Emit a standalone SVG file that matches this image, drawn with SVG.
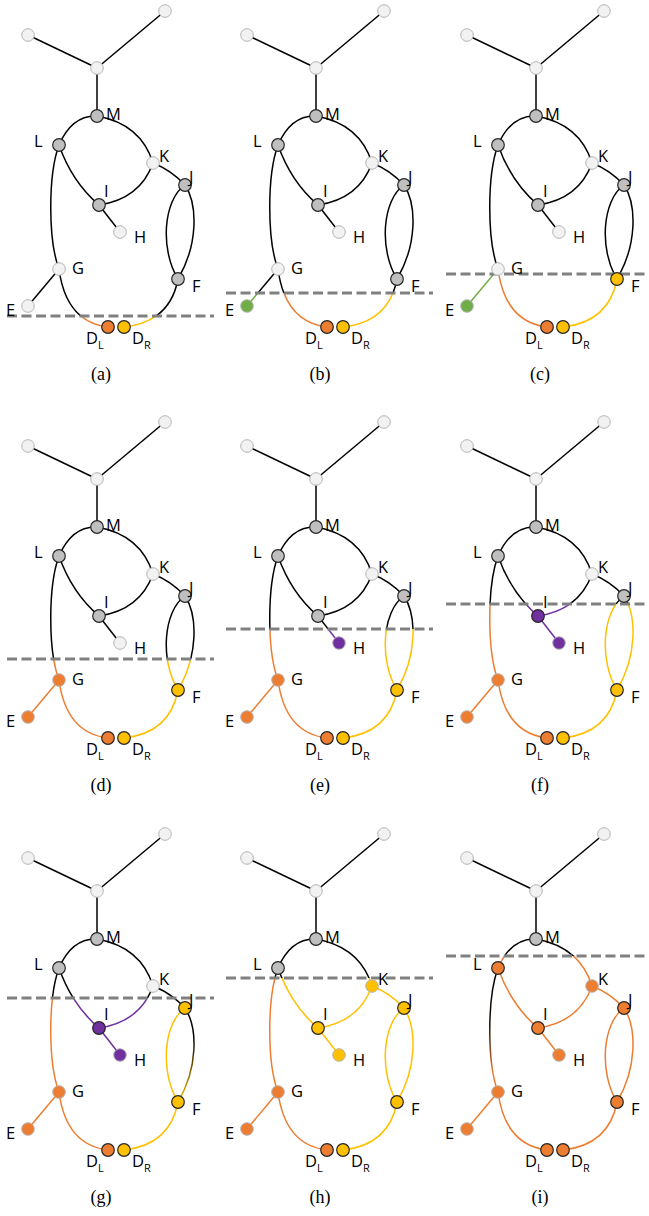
<svg xmlns="http://www.w3.org/2000/svg" width="649" height="1216" viewBox="0 0 649 1216">
<style>
.k{stroke:#000;fill:none;stroke-width:1.5}
.o{stroke:#ED7D31;fill:none;stroke-width:1.5}
.y{stroke:#FFC000;fill:none;stroke-width:1.5}
.g{stroke:#70AD47;fill:none;stroke-width:1.5}
.p{stroke:#7030A0;fill:none;stroke-width:1.5}
.dash{stroke:#808080;stroke-width:3.2;stroke-dasharray:10 4.5;fill:none}
.L{stroke:#B4B4B4;stroke-width:1}
.D{stroke:#262626;stroke-width:1.2}
.w{fill:#F2F2F2}
.gr{fill:#BFBFBF}
.or{fill:#ED7D31}
.ye{fill:#FFC000}
.gn{fill:#70AD47}
.pu{fill:#7030A0}
text{font-family:"Open Sans","DejaVu Sans",sans-serif;font-size:16.5px;fill:#000}
text.cap{font-family:"Liberation Serif","Times New Roman",serif;font-size:18px;text-anchor:middle}
tspan.s{font-size:11px}
</style>
<defs>
<path id="eT1" d="M28,35 L97,68"/>
<path id="eT2" d="M165,11 L97,68"/>
<path id="eHM" d="M97,68 L97,116"/>
<path id="eML" d="M97,116 Q72,115 59,145"/>
<path id="eMK" d="M97,116 Q141,124 153,163"/>
<path id="eKJ" d="M153,163 Q171,170 185,185"/>
<path id="eLI" d="M59,145 Q72,182 99,205"/>
<path id="eIK" d="M99,205 Q140,199 153,163"/>
<path id="eIH" d="M99,205 L120,232"/>
<path id="eLG" d="M59,145 C48,175 48,240 59,269"/>
<path id="eGE" d="M59,269 L28,306"/>
<path id="eGD" d="M59,269 Q66,322 108,327"/>
<path id="eFD" d="M178,279 Q170,322 124,327"/>
<path id="eJFL" d="M185,185 C163,200 160,250 178,279"/>
<path id="eJFR" d="M185,185 C198,205 198,245 178,279"/>
<g id="allEdges">
<use href="#eT1"/><use href="#eT2"/><use href="#eHM"/><use href="#eML"/><use href="#eMK"/><use href="#eKJ"/><use href="#eLI"/><use href="#eIK"/><use href="#eIH"/><use href="#eLG"/><use href="#eGE"/><use href="#eGD"/><use href="#eFD"/><use href="#eJFL"/><use href="#eJFR"/>
</g>
<circle id="nT1" cx="28" cy="35" r="6.3"/>
<circle id="nT2" cx="165" cy="11" r="6.3"/>
<circle id="nHub" cx="97" cy="68" r="6.3"/>
<circle id="nM" cx="97" cy="116" r="6.3"/>
<circle id="nL" cx="59" cy="145" r="6.3"/>
<circle id="nK" cx="153" cy="163" r="6.3"/>
<circle id="nJ" cx="185" cy="185" r="6.3"/>
<circle id="nI" cx="99" cy="205" r="6.3"/>
<circle id="nH" cx="120" cy="232" r="6.3"/>
<circle id="nG" cx="59" cy="269" r="6.3"/>
<circle id="nF" cx="178" cy="279" r="6.3"/>
<circle id="nE" cx="28" cy="306" r="6.3"/>
<circle id="nDL" cx="108" cy="327" r="6.3"/>
<circle id="nDR" cx="124" cy="327" r="6.3"/>
<clipPath id="ca" clipPathUnits="userSpaceOnUse"><rect x="-10" y="316" width="240" height="100"/></clipPath>
<clipPath id="cb" clipPathUnits="userSpaceOnUse"><rect x="-10" y="293" width="240" height="100"/></clipPath>
<clipPath id="cc" clipPathUnits="userSpaceOnUse"><rect x="-10" y="274" width="240" height="100"/></clipPath>
<clipPath id="cd" clipPathUnits="userSpaceOnUse"><rect x="-10" y="248" width="240" height="150"/></clipPath>
<clipPath id="ce" clipPathUnits="userSpaceOnUse"><rect x="-10" y="218" width="240" height="200"/></clipPath>
<clipPath id="cf" clipPathUnits="userSpaceOnUse"><rect x="-10" y="193" width="240" height="200"/></clipPath>
<clipPath id="cg" clipPathUnits="userSpaceOnUse"><rect x="-10" y="175" width="240" height="200"/></clipPath>
<clipPath id="ch" clipPathUnits="userSpaceOnUse"><rect x="-10" y="155" width="240" height="250"/></clipPath>
<clipPath id="ci" clipPathUnits="userSpaceOnUse"><rect x="-10" y="133" width="240" height="250"/></clipPath>
<clipPath id="xa" clipPathUnits="userSpaceOnUse"><rect x="-10" y="-20" width="240" height="336"/></clipPath>
<clipPath id="xb" clipPathUnits="userSpaceOnUse"><rect x="-10" y="-20" width="240" height="313"/></clipPath>
<clipPath id="xc" clipPathUnits="userSpaceOnUse"><rect x="-10" y="-20" width="240" height="294"/></clipPath>
<clipPath id="xd" clipPathUnits="userSpaceOnUse"><rect x="-10" y="-20" width="240" height="268"/></clipPath>
<clipPath id="xe" clipPathUnits="userSpaceOnUse"><rect x="-10" y="-20" width="240" height="238"/></clipPath>
<clipPath id="xf" clipPathUnits="userSpaceOnUse"><rect x="-10" y="-20" width="240" height="213"/></clipPath>
<clipPath id="xg" clipPathUnits="userSpaceOnUse"><rect x="-10" y="-20" width="240" height="195"/></clipPath>
<clipPath id="xh" clipPathUnits="userSpaceOnUse"><rect x="-10" y="-20" width="240" height="175"/></clipPath>
<clipPath id="xi" clipPathUnits="userSpaceOnUse"><rect x="-10" y="-20" width="240" height="153"/></clipPath>
<linearGradient id="gradJF" gradientUnits="userSpaceOnUse" x1="0" y1="185" x2="0" y2="279">
<stop offset="0" stop-color="#000"/><stop offset="0.3" stop-color="#000"/><stop offset="1" stop-color="#FFC000"/>
</linearGradient>
<linearGradient id="gradLG" gradientUnits="userSpaceOnUse" x1="0" y1="145" x2="0" y2="269">
<stop offset="0" stop-color="#000"/><stop offset="0.45" stop-color="#1a0c04"/><stop offset="0.85" stop-color="#ED7D31"/><stop offset="1" stop-color="#ED7D31"/>
</linearGradient>
</defs>

<!-- Panel (a) -->
<g id="pa" transform="translate(0,0)">
<g id="pa-connectors">
<g clip-path="url(#xa)"><use href="#allEdges" class="k"/></g>
<g clip-path="url(#ca)"><use href="#eGD" class="o"/><use href="#eFD" class="y"/></g>
</g>
<line class="dash" x1="7" y1="316" x2="214" y2="316"/>
<g id="pa-T1"><use href="#nT1" class="w L"/></g>
<g id="pa-T2"><use href="#nT2" class="w L"/></g>
<g id="pa-Hub"><use href="#nHub" class="w L"/></g>
<g id="pa-M"><use href="#nM" class="gr D"/><text x="106" y="120">M</text></g>
<g id="pa-L"><use href="#nL" class="gr D"/><text x="34" y="147">L</text></g>
<g id="pa-K"><use href="#nK" class="w L"/><text x="159" y="162">K</text></g>
<g id="pa-J"><use href="#nJ" class="gr D"/><text x="189" y="183">J</text></g>
<g id="pa-I"><use href="#nI" class="gr D"/><text x="104" y="197">I</text></g>
<g id="pa-H"><use href="#nH" class="w L"/><text x="134" y="243">H</text></g>
<g id="pa-G"><use href="#nG" class="w L"/><text x="72" y="274">G</text></g>
<g id="pa-F"><use href="#nF" class="gr D"/><text x="192" y="292">F</text></g>
<g id="pa-E"><use href="#nE" class="w L"/><text x="6" y="316">E</text></g>
<g id="pa-DL"><use href="#nDL" class="or D"/><text x="86" y="344">D<tspan class="s" dy="5">L</tspan></text></g>
<g id="pa-DR"><use href="#nDR" class="ye D"/><text x="132" y="344">D<tspan class="s" dy="5">R</tspan></text></g>
<text class="cap" x="101" y="380">(a)</text>
</g>

<!-- Panel (b) -->
<g id="pb" transform="translate(219,0)">
<g id="pb-connectors">
<g clip-path="url(#xb)"><use href="#allEdges" class="k"/></g>
<g clip-path="url(#cb)"><use href="#eGE" class="g"/><use href="#eGD" class="o"/><use href="#eFD" class="y"/></g>
</g>
<line class="dash" x1="7" y1="293" x2="214" y2="293"/>
<g id="pb-T1"><use href="#nT1" class="w L"/></g>
<g id="pb-T2"><use href="#nT2" class="w L"/></g>
<g id="pb-Hub"><use href="#nHub" class="w L"/></g>
<g id="pb-M"><use href="#nM" class="gr D"/><text x="106" y="120">M</text></g>
<g id="pb-L"><use href="#nL" class="gr D"/><text x="34" y="147">L</text></g>
<g id="pb-K"><use href="#nK" class="w L"/><text x="159" y="162">K</text></g>
<g id="pb-J"><use href="#nJ" class="gr D"/><text x="189" y="183">J</text></g>
<g id="pb-I"><use href="#nI" class="gr D"/><text x="104" y="197">I</text></g>
<g id="pb-H"><use href="#nH" class="w L"/><text x="134" y="243">H</text></g>
<g id="pb-G"><use href="#nG" class="w L"/><text x="72" y="274">G</text></g>
<g id="pb-F"><use href="#nF" class="gr D"/><text x="192" y="292">F</text></g>
<g id="pb-E"><use href="#nE" class="gn L"/><text x="6" y="316">E</text></g>
<g id="pb-DL"><use href="#nDL" class="or D"/><text x="86" y="344">D<tspan class="s" dy="5">L</tspan></text></g>
<g id="pb-DR"><use href="#nDR" class="ye D"/><text x="132" y="344">D<tspan class="s" dy="5">R</tspan></text></g>
<text class="cap" x="101" y="380">(b)</text>
</g>

<!-- Panel (c) -->
<g id="pc" transform="translate(439,0)">
<g id="pc-connectors">
<g clip-path="url(#xc)"><use href="#allEdges" class="k"/></g>
<g clip-path="url(#cc)"><use href="#eGE" class="g"/><use href="#eGD" class="o"/><use href="#eFD" class="y"/><use href="#eJFL" class="y"/><use href="#eJFR" class="y"/></g>
</g>
<line class="dash" x1="7" y1="274" x2="214" y2="274"/>
<g id="pc-T1"><use href="#nT1" class="w L"/></g>
<g id="pc-T2"><use href="#nT2" class="w L"/></g>
<g id="pc-Hub"><use href="#nHub" class="w L"/></g>
<g id="pc-M"><use href="#nM" class="gr D"/><text x="106" y="120">M</text></g>
<g id="pc-L"><use href="#nL" class="gr D"/><text x="34" y="147">L</text></g>
<g id="pc-K"><use href="#nK" class="w L"/><text x="159" y="162">K</text></g>
<g id="pc-J"><use href="#nJ" class="gr D"/><text x="189" y="183">J</text></g>
<g id="pc-I"><use href="#nI" class="gr D"/><text x="104" y="197">I</text></g>
<g id="pc-H"><use href="#nH" class="w L"/><text x="134" y="243">H</text></g>
<g id="pc-G"><use href="#nG" class="w L"/><text x="72" y="274">G</text></g>
<g id="pc-F"><use href="#nF" class="ye D"/><text x="192" y="292">F</text></g>
<g id="pc-E"><use href="#nE" class="gn L"/><text x="6" y="316">E</text></g>
<g id="pc-DL"><use href="#nDL" class="or D"/><text x="86" y="344">D<tspan class="s" dy="5">L</tspan></text></g>
<g id="pc-DR"><use href="#nDR" class="ye D"/><text x="132" y="344">D<tspan class="s" dy="5">R</tspan></text></g>
<text class="cap" x="101" y="380">(c)</text>
</g>

<!-- Panel (d) -->
<g id="pd" transform="translate(0,411)">
<g id="pd-connectors">
<g clip-path="url(#xd)"><use href="#allEdges" class="k"/></g>
<g clip-path="url(#cd)"><use href="#eLG" class="o"/><use href="#eGE" class="o"/><use href="#eGD" class="o"/><use href="#eFD" class="y"/><use href="#eJFL" class="y"/><use href="#eJFR" class="y"/></g>
</g>
<line class="dash" x1="7" y1="248" x2="214" y2="248"/>
<g id="pd-T1"><use href="#nT1" class="w L"/></g>
<g id="pd-T2"><use href="#nT2" class="w L"/></g>
<g id="pd-Hub"><use href="#nHub" class="w L"/></g>
<g id="pd-M"><use href="#nM" class="gr D"/><text x="106" y="120">M</text></g>
<g id="pd-L"><use href="#nL" class="gr D"/><text x="34" y="147">L</text></g>
<g id="pd-K"><use href="#nK" class="w L"/><text x="159" y="162">K</text></g>
<g id="pd-J"><use href="#nJ" class="gr D"/><text x="189" y="183">J</text></g>
<g id="pd-I"><use href="#nI" class="gr D"/><text x="104" y="197">I</text></g>
<g id="pd-H"><use href="#nH" class="w L"/><text x="134" y="243">H</text></g>
<g id="pd-G"><use href="#nG" class="or L"/><text x="72" y="274">G</text></g>
<g id="pd-F"><use href="#nF" class="ye D"/><text x="192" y="292">F</text></g>
<g id="pd-E"><use href="#nE" class="or L"/><text x="6" y="316">E</text></g>
<g id="pd-DL"><use href="#nDL" class="or D"/><text x="86" y="344">D<tspan class="s" dy="5">L</tspan></text></g>
<g id="pd-DR"><use href="#nDR" class="ye D"/><text x="132" y="344">D<tspan class="s" dy="5">R</tspan></text></g>
<text class="cap" x="101" y="380">(d)</text>
</g>

<!-- Panel (e) -->
<g id="pe" transform="translate(219,411)">
<g id="pe-connectors">
<g clip-path="url(#xe)"><use href="#allEdges" class="k"/></g>
<g clip-path="url(#ce)"><use href="#eLG" class="o"/><use href="#eGE" class="o"/><use href="#eGD" class="o"/><use href="#eFD" class="y"/><use href="#eJFL" class="y"/><use href="#eJFR" class="y"/><use href="#eIH" class="p"/></g>
</g>
<line class="dash" x1="7" y1="218" x2="214" y2="218"/>
<g id="pe-T1"><use href="#nT1" class="w L"/></g>
<g id="pe-T2"><use href="#nT2" class="w L"/></g>
<g id="pe-Hub"><use href="#nHub" class="w L"/></g>
<g id="pe-M"><use href="#nM" class="gr D"/><text x="106" y="120">M</text></g>
<g id="pe-L"><use href="#nL" class="gr D"/><text x="34" y="147">L</text></g>
<g id="pe-K"><use href="#nK" class="w L"/><text x="159" y="162">K</text></g>
<g id="pe-J"><use href="#nJ" class="gr D"/><text x="189" y="183">J</text></g>
<g id="pe-I"><use href="#nI" class="gr D"/><text x="104" y="197">I</text></g>
<g id="pe-H"><use href="#nH" class="pu L"/><text x="134" y="243">H</text></g>
<g id="pe-G"><use href="#nG" class="or L"/><text x="72" y="274">G</text></g>
<g id="pe-F"><use href="#nF" class="ye D"/><text x="192" y="292">F</text></g>
<g id="pe-E"><use href="#nE" class="or L"/><text x="6" y="316">E</text></g>
<g id="pe-DL"><use href="#nDL" class="or D"/><text x="86" y="344">D<tspan class="s" dy="5">L</tspan></text></g>
<g id="pe-DR"><use href="#nDR" class="ye D"/><text x="132" y="344">D<tspan class="s" dy="5">R</tspan></text></g>
<text class="cap" x="101" y="380">(e)</text>
</g>

<!-- Panel (f) -->
<g id="pf" transform="translate(439,411)">
<g id="pf-connectors">
<g clip-path="url(#xf)"><use href="#allEdges" class="k"/></g>
<g clip-path="url(#cf)"><use href="#eLG" class="o"/><use href="#eGE" class="o"/><use href="#eGD" class="o"/><use href="#eFD" class="y"/><use href="#eJFL" class="y"/><use href="#eJFR" class="y"/><use href="#eIH" class="p"/><use href="#eLI" class="p"/><use href="#eIK" class="p"/></g>
</g>
<line class="dash" x1="7" y1="193" x2="214" y2="193"/>
<g id="pf-T1"><use href="#nT1" class="w L"/></g>
<g id="pf-T2"><use href="#nT2" class="w L"/></g>
<g id="pf-Hub"><use href="#nHub" class="w L"/></g>
<g id="pf-M"><use href="#nM" class="gr D"/><text x="106" y="120">M</text></g>
<g id="pf-L"><use href="#nL" class="gr D"/><text x="34" y="147">L</text></g>
<g id="pf-K"><use href="#nK" class="w L"/><text x="159" y="162">K</text></g>
<g id="pf-J"><use href="#nJ" class="gr D"/><text x="189" y="183">J</text></g>
<g id="pf-I"><use href="#nI" class="pu D"/><text x="104" y="197">I</text></g>
<g id="pf-H"><use href="#nH" class="pu L"/><text x="134" y="243">H</text></g>
<g id="pf-G"><use href="#nG" class="or L"/><text x="72" y="274">G</text></g>
<g id="pf-F"><use href="#nF" class="ye D"/><text x="192" y="292">F</text></g>
<g id="pf-E"><use href="#nE" class="or L"/><text x="6" y="316">E</text></g>
<g id="pf-DL"><use href="#nDL" class="or D"/><text x="86" y="344">D<tspan class="s" dy="5">L</tspan></text></g>
<g id="pf-DR"><use href="#nDR" class="ye D"/><text x="132" y="344">D<tspan class="s" dy="5">R</tspan></text></g>
<text class="cap" x="101" y="380">(f)</text>
</g>

<!-- Panel (g) -->
<g id="pg" transform="translate(0,823)">
<g id="pg-connectors">
<g clip-path="url(#xg)"><use href="#allEdges" class="k"/></g>
<g clip-path="url(#cg)"><use href="#eKJ" class="k"/><use href="#eLG" class="o"/><use href="#eGE" class="o"/><use href="#eGD" class="o"/><use href="#eFD" class="y"/><use href="#eJFL" class="y"/><use href="#eIH" class="p"/><use href="#eLI" class="p"/><use href="#eIK" class="p"/></g>
<use href="#eJFR" style="stroke:url(#gradJF);stroke-width:1.5;fill:none"/>
</g>
<line class="dash" x1="7" y1="175" x2="214" y2="175"/>
<g id="pg-T1"><use href="#nT1" class="w L"/></g>
<g id="pg-T2"><use href="#nT2" class="w L"/></g>
<g id="pg-Hub"><use href="#nHub" class="w L"/></g>
<g id="pg-M"><use href="#nM" class="gr D"/><text x="106" y="120">M</text></g>
<g id="pg-L"><use href="#nL" class="gr D"/><text x="34" y="147">L</text></g>
<g id="pg-K"><use href="#nK" class="w L"/><text x="159" y="162">K</text></g>
<g id="pg-J"><use href="#nJ" class="ye D"/><text x="189" y="183">J</text></g>
<g id="pg-I"><use href="#nI" class="pu D"/><text x="104" y="197">I</text></g>
<g id="pg-H"><use href="#nH" class="pu L"/><text x="134" y="243">H</text></g>
<g id="pg-G"><use href="#nG" class="or L"/><text x="72" y="274">G</text></g>
<g id="pg-F"><use href="#nF" class="ye D"/><text x="192" y="292">F</text></g>
<g id="pg-E"><use href="#nE" class="or L"/><text x="6" y="316">E</text></g>
<g id="pg-DL"><use href="#nDL" class="or D"/><text x="86" y="344">D<tspan class="s" dy="5">L</tspan></text></g>
<g id="pg-DR"><use href="#nDR" class="ye D"/><text x="132" y="344">D<tspan class="s" dy="5">R</tspan></text></g>
<text class="cap" x="101" y="380">(g)</text>
</g>

<!-- Panel (h) -->
<g id="ph" transform="translate(219,823)">
<g id="ph-connectors">
<g clip-path="url(#xh)"><use href="#allEdges" class="k"/></g>
<g clip-path="url(#ch)"><use href="#eLG" class="o"/><use href="#eGE" class="o"/><use href="#eGD" class="o"/><use href="#eFD" class="y"/><use href="#eJFL" class="y"/><use href="#eJFR" class="y"/><use href="#eIH" class="y"/><use href="#eLI" class="y"/><use href="#eIK" class="y"/><use href="#eKJ" class="y"/><use href="#eMK" class="y"/></g>
</g>
<line class="dash" x1="7" y1="155" x2="214" y2="155"/>
<g id="ph-T1"><use href="#nT1" class="w L"/></g>
<g id="ph-T2"><use href="#nT2" class="w L"/></g>
<g id="ph-Hub"><use href="#nHub" class="w L"/></g>
<g id="ph-M"><use href="#nM" class="gr D"/><text x="106" y="120">M</text></g>
<g id="ph-L"><use href="#nL" class="gr D"/><text x="34" y="147">L</text></g>
<g id="ph-K"><use href="#nK" class="ye L"/><text x="159" y="162">K</text></g>
<g id="ph-J"><use href="#nJ" class="ye D"/><text x="189" y="183">J</text></g>
<g id="ph-I"><use href="#nI" class="ye D"/><text x="104" y="197">I</text></g>
<g id="ph-H"><use href="#nH" class="ye L"/><text x="134" y="243">H</text></g>
<g id="ph-G"><use href="#nG" class="or L"/><text x="72" y="274">G</text></g>
<g id="ph-F"><use href="#nF" class="ye D"/><text x="192" y="292">F</text></g>
<g id="ph-E"><use href="#nE" class="or L"/><text x="6" y="316">E</text></g>
<g id="ph-DL"><use href="#nDL" class="or D"/><text x="86" y="344">D<tspan class="s" dy="5">L</tspan></text></g>
<g id="ph-DR"><use href="#nDR" class="ye D"/><text x="132" y="344">D<tspan class="s" dy="5">R</tspan></text></g>
<text class="cap" x="101" y="380">(h)</text>
</g>

<!-- Panel (i) -->
<g id="pi" transform="translate(439,823)">
<g id="pi-connectors">
<g clip-path="url(#xi)"><use href="#allEdges" class="k"/></g>
<g clip-path="url(#ci)"><use href="#eML" class="o"/><use href="#eMK" class="o"/><use href="#eGE" class="o"/><use href="#eGD" class="o"/><use href="#eFD" class="o"/><use href="#eJFL" class="o"/><use href="#eJFR" class="o"/><use href="#eIH" class="o"/><use href="#eLI" class="o"/><use href="#eIK" class="o"/><use href="#eKJ" class="o"/></g>
<use href="#eLG" style="stroke:url(#gradLG);stroke-width:1.5;fill:none"/>
</g>
<line class="dash" x1="7" y1="133" x2="214" y2="133"/>
<g id="pi-T1"><use href="#nT1" class="w L"/></g>
<g id="pi-T2"><use href="#nT2" class="w L"/></g>
<g id="pi-Hub"><use href="#nHub" class="w L"/></g>
<g id="pi-M"><use href="#nM" class="gr D"/><text x="106" y="120">M</text></g>
<g id="pi-L"><use href="#nL" class="or D"/><text x="34" y="147">L</text></g>
<g id="pi-K"><use href="#nK" class="or L"/><text x="159" y="162">K</text></g>
<g id="pi-J"><use href="#nJ" class="or D"/><text x="189" y="183">J</text></g>
<g id="pi-I"><use href="#nI" class="or D"/><text x="104" y="197">I</text></g>
<g id="pi-H"><use href="#nH" class="or L"/><text x="134" y="243">H</text></g>
<g id="pi-G"><use href="#nG" class="or L"/><text x="72" y="274">G</text></g>
<g id="pi-F"><use href="#nF" class="or D"/><text x="192" y="292">F</text></g>
<g id="pi-E"><use href="#nE" class="or L"/><text x="6" y="316">E</text></g>
<g id="pi-DL"><use href="#nDL" class="or D"/><text x="86" y="344">D<tspan class="s" dy="5">L</tspan></text></g>
<g id="pi-DR"><use href="#nDR" class="or D"/><text x="132" y="344">D<tspan class="s" dy="5">R</tspan></text></g>
<text class="cap" x="101" y="380">(i)</text>
</g>
</svg>
